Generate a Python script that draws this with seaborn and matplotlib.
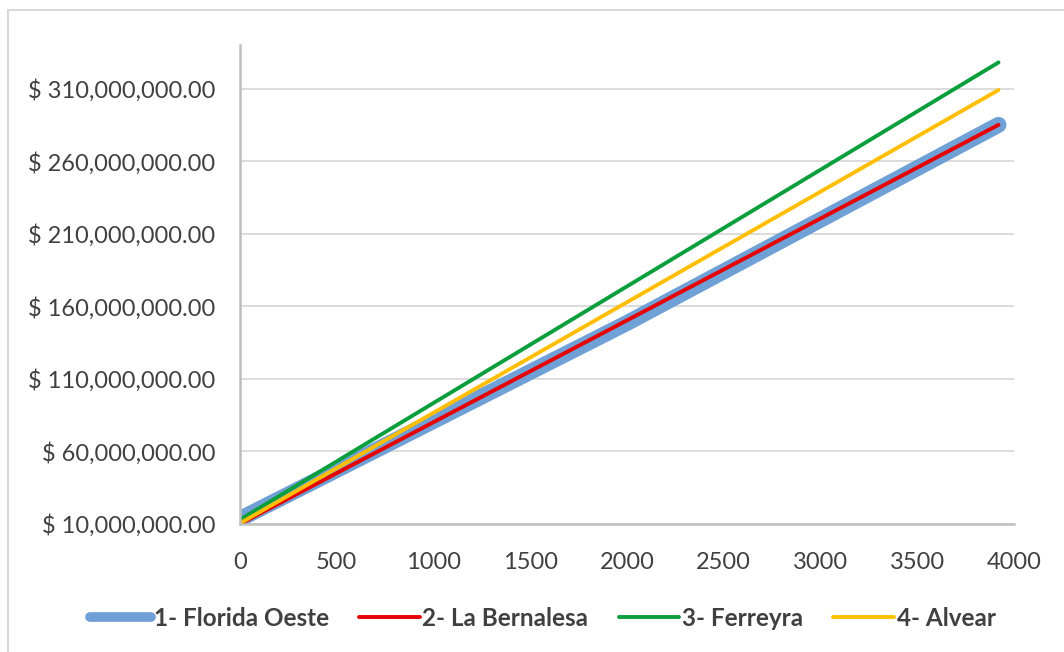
import matplotlib
matplotlib.use("Agg")
import matplotlib.pyplot as plt
from matplotlib.ticker import FuncFormatter
from matplotlib.patches import Rectangle
import pandas as pd
import seaborn as sns

# Cost curves (x = quantity, y = total cost in $)
series_names = ["1- Florida Oeste", "2- La Bernalesa", "3- Ferreyra", "4- Alvear"]
florida_x = [0, 2000, 3920]
florida_y = [13_500_000, 148_500_000, 285_000_000]
bernalesa_x = [0, 3920]
bernalesa_y = [10_000_000, 285_000_000]
ferreyra_x = [0, 3920]
ferreyra_y = [13_000_000, 328_000_000]
alvear_x = [0, 3920]
alvear_y = [10_500_000, 309_000_000]

x_ticks = [0, 500, 1000, 1500, 2000, 2500, 3000, 3500, 4000]
y_ticks = [10_000_000, 60_000_000, 110_000_000, 160_000_000, 210_000_000,
           260_000_000, 310_000_000]

frames = []
for name, xs, ys in zip(series_names,
                        [florida_x, bernalesa_x, ferreyra_x, alvear_x],
                        [florida_y, bernalesa_y, ferreyra_y, alvear_y]):
    frames.append(pd.DataFrame({"x": xs, "y": ys, "serie": name}))
df = pd.concat(frames, ignore_index=True)

colors = {"1- Florida Oeste": "#6fa0d6", "2- La Bernalesa": "#e60000",
          "3- Ferreyra": "#0a9e3c", "4- Alvear": "#ffbf00"}
widths = {"1- Florida Oeste": 11.5, "2- La Bernalesa": 2.8,
          "3- Ferreyra": 2.8, "4- Alvear": 2.8}

sns.set_style("white")
plt.rcParams["font.family"] = ["Lato", "DejaVu Sans"]
text_color = "#404040"

fig = plt.figure(figsize=(10.64, 6.52), dpi=100)
ax = fig.add_axes([240 / 1064, 1 - 524 / 652, 774 / 1064, 479 / 652])

for name in series_names:
    sub = df[df["serie"] == name]
    sns.lineplot(data=sub, x="x", y="y", ax=ax, color=colors[name],
                 linewidth=widths[name], solid_capstyle="round",
                 label=name, legend=False, sort=False)

ax.set_xlim(0, 4000)
ax.set_ylim(10_000_000, 340_000_000)
ax.set_xticks(x_ticks)
ax.set_yticks(y_ticks)
ax.yaxis.set_major_formatter(FuncFormatter(lambda v, p: f"$ {v:,.2f}"))
ax.set_xlabel("")
ax.set_ylabel("")

ax.grid(axis="y", color="#d9d9d9", linewidth=1.3)
ax.grid(axis="x", visible=False)
ax.set_axisbelow(True)
for s in ["top", "right"]:
    ax.spines[s].set_visible(False)
for s in ["left", "bottom"]:
    ax.spines[s].set_color("#bfbfbf")
    ax.spines[s].set_linewidth(1.8)

ax.tick_params(axis="both", length=0, labelsize=17, labelcolor=text_color)
ax.tick_params(axis="y", pad=18)
ax.tick_params(axis="x", pad=20)

handles, labels = ax.get_legend_handles_labels()
leg = fig.legend(handles, labels, loc="center", ncol=4,
                 bbox_to_anchor=(543 / 1064, 1 - 618 / 652),
                 frameon=False, handlelength=2.5, handletextpad=0.1,
                 columnspacing=1.25,
                 prop={"size": 17.5, "weight": "bold"})
for t in leg.get_texts():
    t.set_color(text_color)
leg.legend_handles[0].set_linewidth(7)

# chart area outline
fig.patches.append(Rectangle((8 / 1064, -0.05), 1.1, 1 - 10 / 652 + 0.05,
                             transform=fig.transFigure, fill=False,
                             edgecolor="#d9d9d9", linewidth=1.5))

fig.savefig("out.png", dpi=100)
